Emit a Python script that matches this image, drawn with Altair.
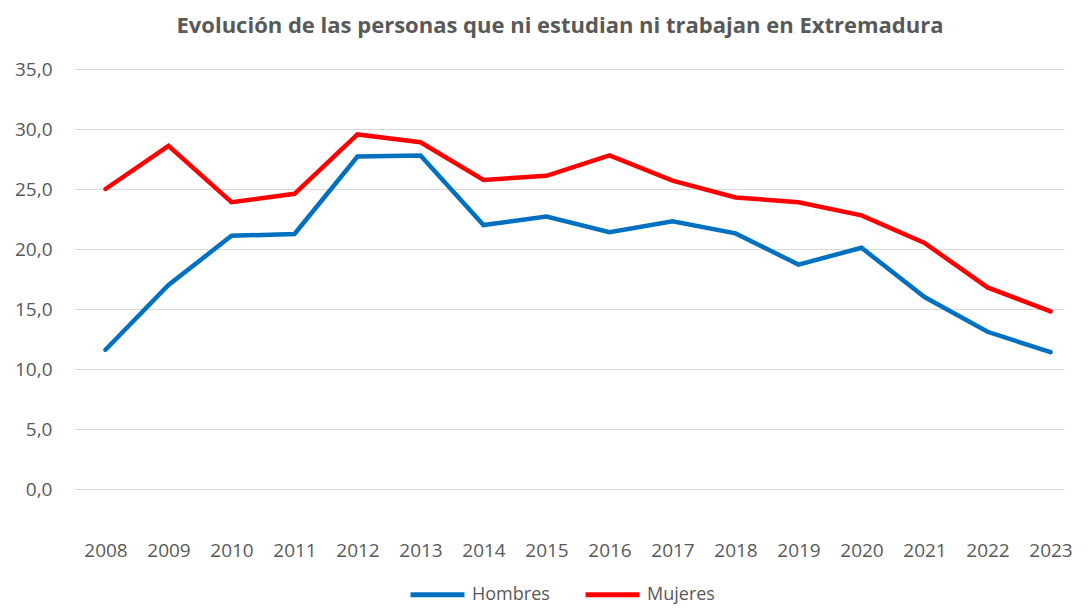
import altair as alt
import pandas as pd

years = list(range(2008, 2024))
hombres = [11.6, 17.0, 21.1, 21.25, 27.7, 27.8, 22.0, 22.7, 21.4, 22.3, 21.3, 18.7, 20.1, 16.0, 13.1, 11.4]
mujeres = [25.0, 28.6, 23.9, 24.6, 29.55, 28.9, 25.75, 26.1, 27.8, 25.7, 24.3, 23.9, 22.8, 20.5, 16.8, 14.8]
series = ["Hombres", "Mujeres"]
colors = ["#0070C0", "#FF0000"]
y_ticks = [0, 5, 10, 15, 20, 25, 30, 35]

rows = []
for name, vals in zip(series, [hombres, mujeres]):
    for y, v in zip(years, vals):
        rows.append({"year": y, "sexo": name, "valor": v})
df = pd.DataFrame(rows)

FONT = "Open Sans"
GRAY = "#595959"

chart = alt.Chart(df).mark_line(strokeWidth=4.5, strokeCap="round", strokeJoin="miter").encode(
    x=alt.X("year:Q",
            scale=alt.Scale(domain=[2007.5, 2023.214], nice=False, zero=False),
            axis=alt.Axis(values=years, format="d", title=None, grid=False, domain=False,
                          ticks=False, labelPadding=52, labelFontSize=19, labelColor=GRAY,
                          labelFont=FONT, labelFlush=False, labelOverlap=False)),
    y=alt.Y("valor:Q",
            scale=alt.Scale(domain=[0, 35], nice=False),
            axis=alt.Axis(values=y_ticks, title=None, domain=False, ticks=False,
                          labelExpr="replace(format(datum.value, '.1f'), '.', ',')",
                          labelPadding=22, labelFontSize=19, labelColor=GRAY, labelFont=FONT,
                          gridColor="#D9D9D9", gridWidth=1)),
    color=alt.Color("sexo:N",
                    scale=alt.Scale(domain=series, range=colors),
                    legend=alt.Legend(title=None, orient="none", direction="horizontal",
                                      legendX=334, legendY=496, symbolType="stroke",
                                      symbolSize=2916, symbolStrokeWidth=5,
                                      labelFontSize=18, labelColor=GRAY, labelFont=FONT,
                                      labelOffset=5, columnPadding=25)),
).properties(
    width=990,
    height=420,
    title=alt.TitleParams("Evolución de las personas que ni estudian ni trabajan en Extremadura",
                          fontSize=22, font=FONT, fontWeight="bold", color=GRAY,
                          anchor="middle", dx=-9, offset=22),
    autosize=alt.AutoSizeParams(type="none"),
    padding={"left": 66, "top": 61, "right": 16, "bottom": 119},
).configure_view(stroke=None)

chart.save("out.html", embed_options={"renderer": "svg", "actions": False})
